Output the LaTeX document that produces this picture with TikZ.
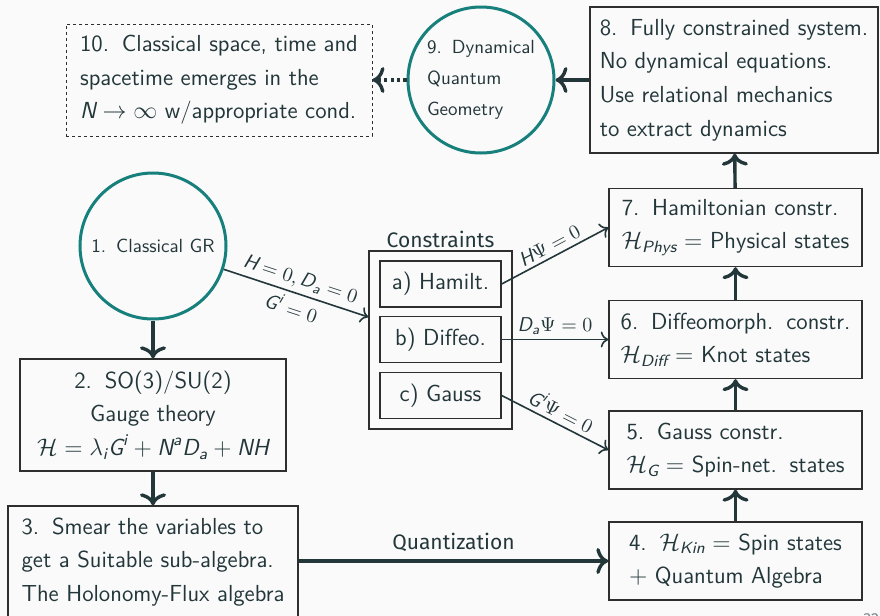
\documentclass[tikz,border=0pt]{standalone}
\usepackage{fontspec}
\usepackage{amsmath,amssymb}
\usetikzlibrary{arrows.meta,positioning}
\newfontfamily\firafont{Fira Sans}
\definecolor{SlideFg}{HTML}{23373B}
\definecolor{SlideBg}{HTML}{FAFAFA}
\definecolor{SlideTeal}{HTML}{17807C}
\definecolor{SlideLine}{HTML}{2E2E2E}
% sans italic letters in formulas
\newcommand{\mv}[1]{\textit{#1}}
% fonts of boxes and circles (wider space after a full stop)
\newcommand{\boxfont}{\sffamily\fontsize{11.6}{16.8}\selectfont\xspaceskip=6.4pt\relax}
\newcommand{\circfont}{\sffamily\fontsize{9.5}{15.5}\selectfont\xspaceskip=5pt\relax}
\tikzset{
    % Base box style
    basebox/.style={
        draw=SlideLine,
        line width=0.7pt,
        text=SlideFg,
        align=left,
        inner xsep=4.5pt,
        font=\boxfont
    },
    % Dashed box for the outcome
    notebox/.style={
        basebox,
        dash pattern=on 1.6pt off 1.4pt,
        line width=0.5pt,
        minimum width=153pt,
        minimum height=56pt
    },
    % Steps of the right column
    stepbox/.style={
        basebox,
        minimum width=126.5pt,
        minimum height=39pt
    },
    % The three constraints
    consbox/.style={
        basebox,
        align=center,
        minimum width=60.5pt,
        minimum height=23pt
    },
    % Circled ideas
    ideacircle/.style={
        circle,
        draw=SlideTeal,
        line width=1.5pt,
        text=SlideFg,
        minimum size=73pt,
        inner sep=0pt,
        align=left,
        font=\circfont
    },
    % Arrow labels
    lbl/.style={
        text=SlideFg,
        inner sep=2pt,
        font=\sffamily\fontsize{10}{12}\selectfont
    },
    % Arrow styles
    thickarrow/.style={
        -{Computer Modern Rightarrow[length=6pt,width=13pt]},
        line width=1.7pt,
        draw=SlideFg
    },
    dotarrow/.style={
        thickarrow,
        dash pattern=on 1.6pt off 1.6pt
    },
    thinarrow/.style={
        -{Computer Modern Rightarrow[length=3.8pt,width=8pt]},
        line width=0.8pt,
        draw=SlideFg
    }
}
\begin{document}
\begin{tikzpicture}[x=0.5pt, y=-0.5pt]
    % Slide background
    \fill[SlideBg] (0,0) rectangle (880,616);
    \useasboundingbox (0,0) rectangle (880,616);

    % Top row
    \node[notebox] (emerge) at (219,80) {10. Classical space, time and\\ spacetime emerges in the\\ $\mv{N} \to \infty$ w/appropriate cond.};
    \node[ideacircle] (dqg) at (481,80) {9. Dynamical\\ Quantum\\ Geometry};
    \node[basebox, minimum width=144pt, minimum height=73pt] (constrained) at (734,80) {8. Fully constrained system.\\ No dynamical equations.\\ Use relational mechanics\\ to extract dynamics};

    % Right column
    \node[stepbox] (hamil) at (735.5,227.5) {7. Hamiltonian constr.\\ $\mathcal{H}_{\mv{Phys}} =$ Physical states};
    \node[stepbox] (diffeo) at (735.5,339.5) {6. Diffeomorph. constr.\\ $\mathcal{H}_{\mv{Diff}} =$ Knot states};
    \node[stepbox] (gauss) at (735.5,450) {5. Gauss constr.\\ $\mathcal{H}_{\mv{G}} =$ Spin-net. states};
    \node[stepbox] (kin) at (735.5,561) {4. $\mathcal{H}_{\mv{Kin}} =$ Spin states\\ $+$ Quantum Algebra};

    % Left column
    \node[ideacircle] (gr) at (153,246) {1. Classical GR};
    \node[basebox, align=center, minimum width=133pt, minimum height=56pt] (gauge) at (153,415) {2. SO(3)/SU(2)\\ Gauge theory\\ $\mathcal{H} = \lambda_{\mv{i}} \mv{G}^{\mv{i}} + \mv{N}^{\mv{a}} \mv{D}_{\mv{a}} + \mv{NH}$};
    \node[basebox, minimum width=145pt, minimum height=56pt] (smear) at (153,562) {3. Smear the variables to\\ get a Suitable sub-algebra.\\ The Holonomy-Flux algebra};

    % Constraints
    \node[basebox, minimum width=71.5pt, minimum height=89pt] (cons) at (440.5,340) {};
    \node[consbox] (ca) at (440.5,284) {a) Hamilt.};
    \node[consbox] (cb) at (440.5,339.5) {b) Diffeo.};
    \node[consbox] (cc) at (440.5,395.5) {c) Gauss};
    \node[above=0pt of cons, inner sep=1pt, text=SlideFg, font=\firafont\fontsize{10.5}{12}\selectfont] (constitle) {Constraints};

    % Page number
    \node[anchor=base west, inner sep=0pt, text=SlideFg!60, font=\firafont\fontsize{8}{8}\selectfont] (pagenum) at (863,624) {32};

    % Main flow
    \draw[thickarrow] (gr) -- (gauge);
    \draw[thickarrow] (gauge) -- (smear);
    \draw[thickarrow] (smear.east |- kin) -- node[above, inner sep=4pt, text=SlideFg, font=\firafont\fontsize{10.5}{12}\selectfont] (quant) {Quantization} (kin);
    \draw[thickarrow] (kin) -- (gauss);
    \draw[thickarrow] (gauss) -- (diffeo);
    \draw[thickarrow] (diffeo) -- (hamil);
    \draw[thickarrow] (hamil) -- (constrained);
    \draw[thickarrow] (constrained) -- (dqg);
    \draw[dotarrow] (dqg) -- (emerge);

    % Constraint arrows
    \draw[thinarrow] (gr) -- node[sloped, above, lbl] {$\mv{H} = 0, \mv{D}_{\mv{a}} = 0$} node[sloped, below, lbl] {$\mv{G}^{\mv{i}} = 0$} ([yshift=11.5pt]cons.west);
    \draw[thinarrow] (ca.east) -- node[sloped, above, lbl] {$\mv{H}\Psi = 0$} (hamil.west);
    \draw[thinarrow] (cb) -- node[above, lbl] {$\mv{D}_{\mv{a}}\Psi = 0$} (diffeo);
    \draw[thinarrow] (cc.east) -- node[sloped, above, lbl] {$\mv{G}^{\mv{i}}\Psi = 0$} (gauss.west);
\end{tikzpicture}
\end{document}
